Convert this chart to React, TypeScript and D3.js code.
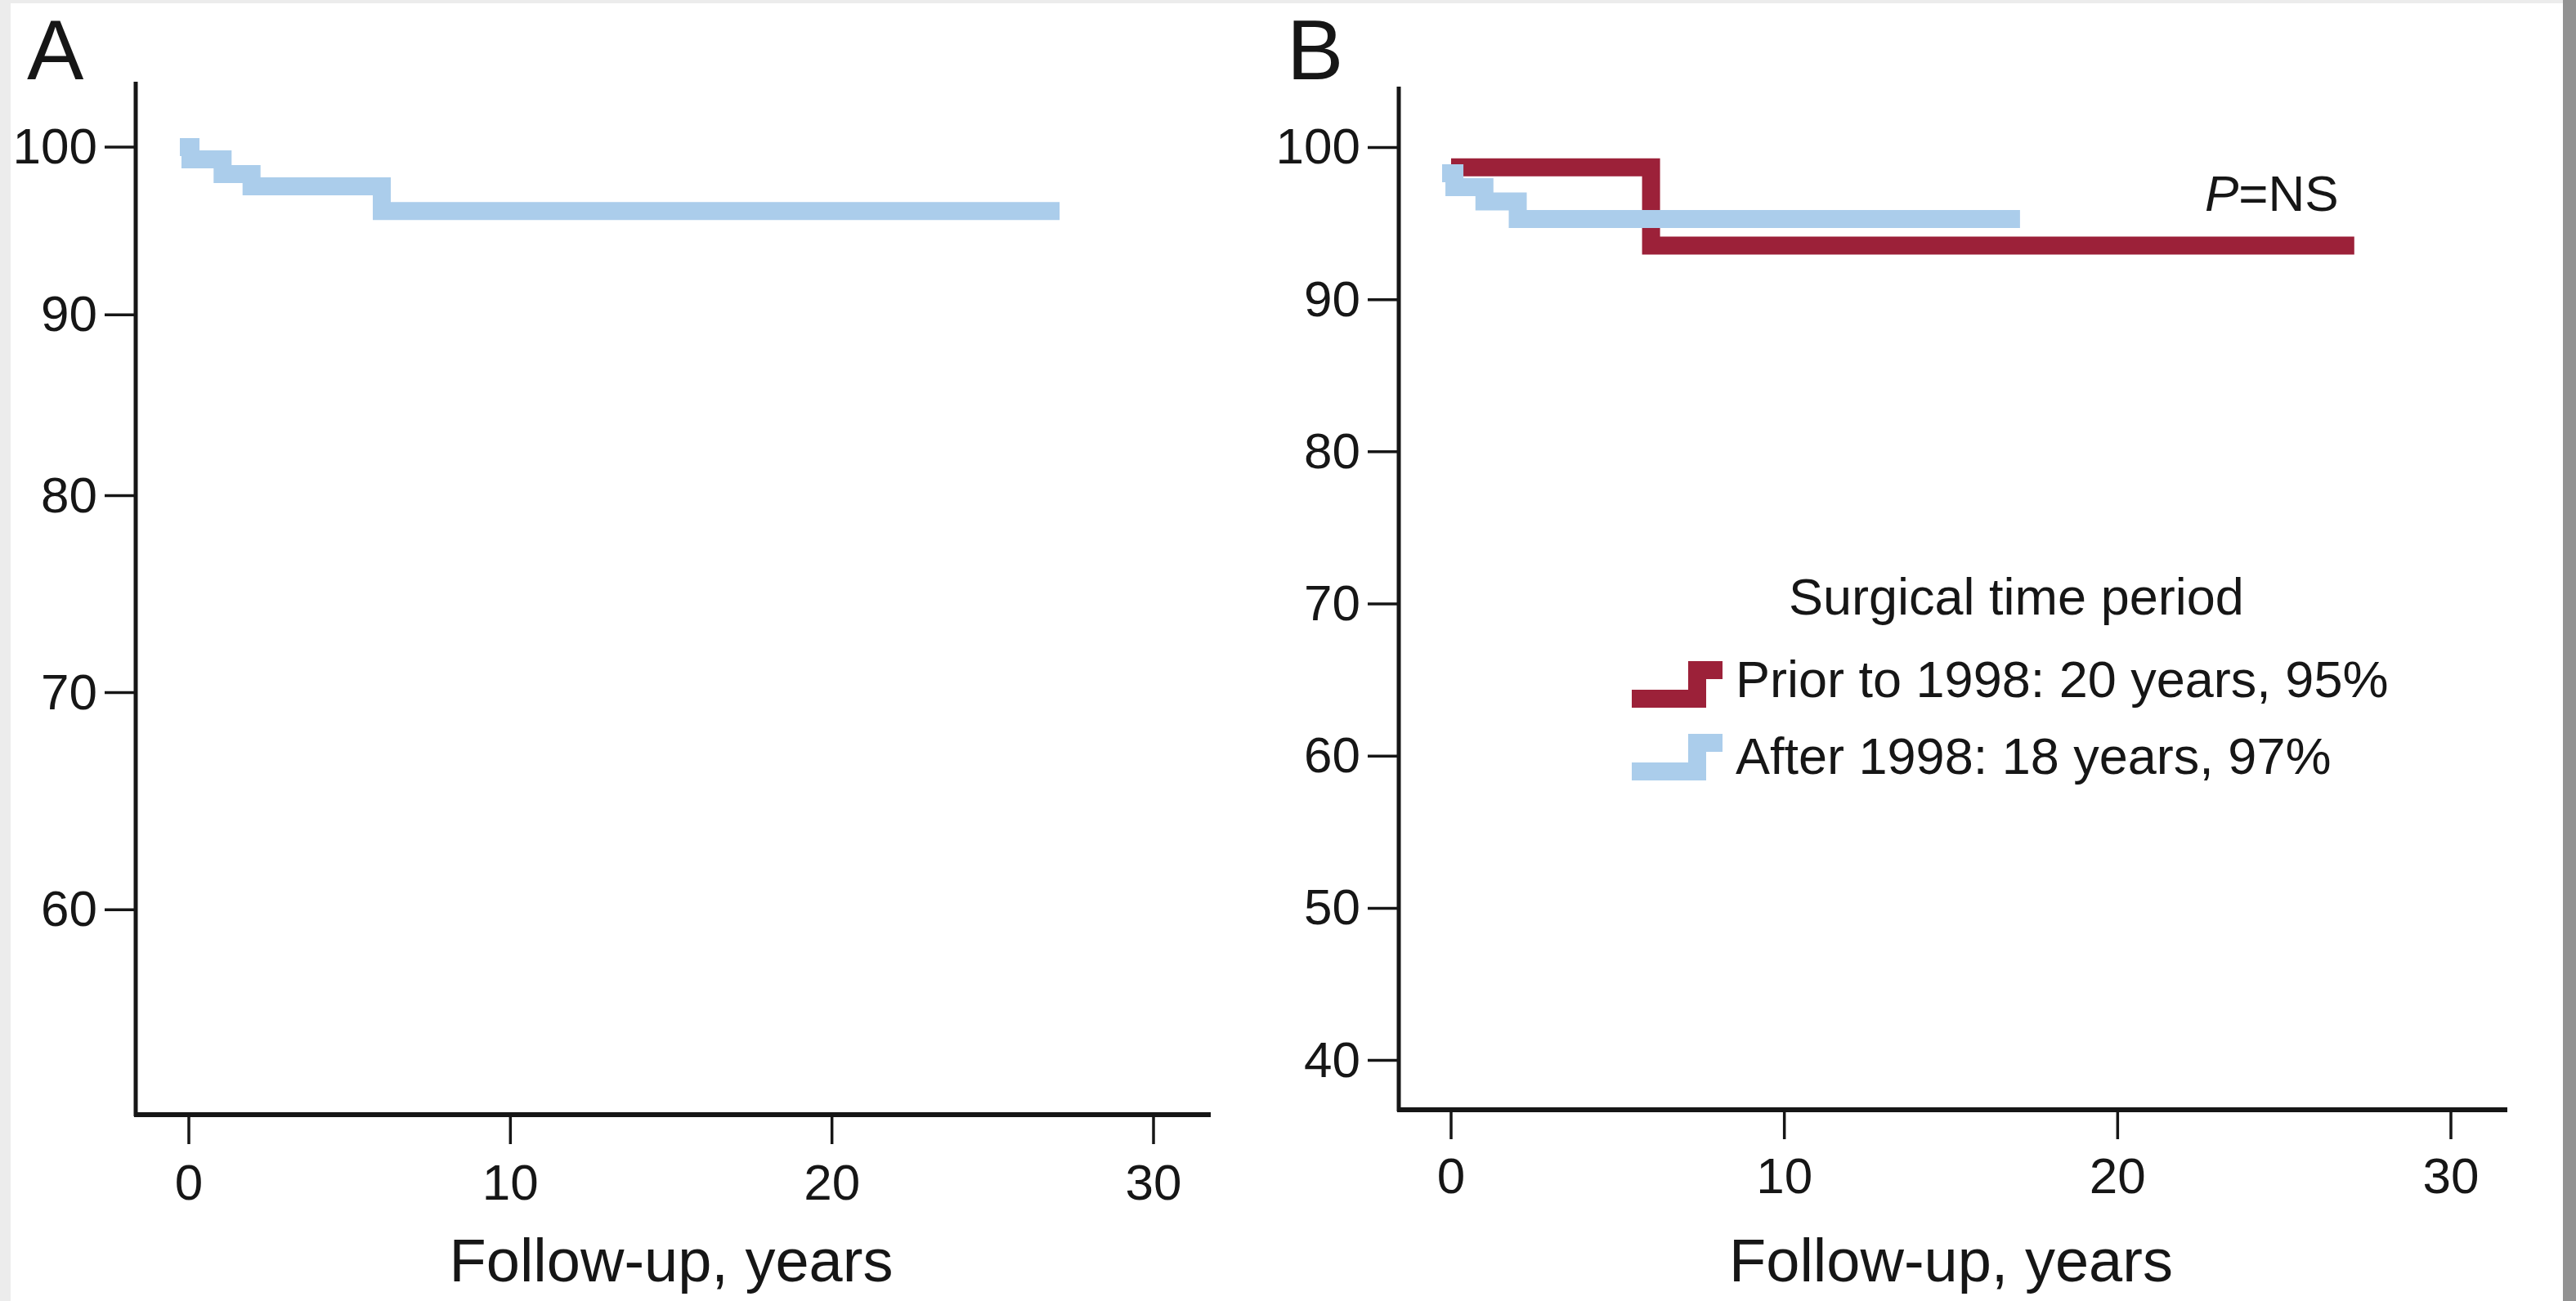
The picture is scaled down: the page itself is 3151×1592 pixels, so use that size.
import React from 'react';
import * as d3 from 'd3';

// tick labels
const xTicks = [0, 10, 20, 30];
const yTicksA = [100, 90, 80, 70, 60];
const yTicksB = [100, 90, 80, 70, 60, 50, 40];

// panel A: all patients (time in years, survival %)
const timesA = [0, 0.05, 1.05, 1.95, 6.0, 26.8];
const survA = [100, 99.25, 98.35, 97.6, 96.1, 96.1];

// panel B: prior to 1998
const timesPrior = [0, 6.0, 27.1];
const survPrior = [98.7, 93.55, 93.55];

// panel B: after 1998
const timesAfter = [0, 0.1, 1.0, 2.0, 16.8];
const survAfter = [98.3, 97.4, 96.45, 95.3, 95.3];

const legendLabels = ['Prior to 1998: 20 years, 95%', 'After 1998: 18 years, 97%'];

const RED = '#9c2139';
const BLUE = '#abcdeb';
const INK = '#161616';
const FONT = 'Liberation Sans, Arial, Helvetica, sans-serif';

const zip = (t, s) => t.map((d, i) => [d, s[i]]);

function Panel({ letter, xScale, yScale, yTicks, axisLeft, axisRight, axisTop, axisBottom, tickLabelBase, series, letterX }) {
  const line = d3.line()
    .x(d => xScale(d[0]))
    .y(d => yScale(d[1]))
    .curve(d3.curveStepAfter);
  const titleX = (xScale(0) + xScale(30)) / 2;
  return (
    <g>
      <text x={letterX} y={97} fontSize={104} fontFamily={FONT} fill={INK}>{letter}</text>
      {series.map((s, i) => (
        <path key={i} d={line(s.points)} fill="none" stroke={s.color} strokeWidth={22}
          strokeLinejoin="miter" strokeLinecap={s.cap} />
      ))}
      {/* y axis */}
      <line x1={axisLeft} x2={axisLeft} y1={axisTop} y2={axisBottom + 2} stroke={INK} strokeWidth={5} />
      {yTicks.map(t => (
        <g key={t}>
          <line x1={axisLeft - 38} x2={axisLeft} y1={yScale(t)} y2={yScale(t)} stroke={INK} strokeWidth={3.5} />
          <text x={axisLeft - 47} y={yScale(t) + 20} textAnchor="end" fontSize={62} fontFamily={FONT} fill={INK}>{t}</text>
        </g>
      ))}
      {/* x axis */}
      <line x1={axisLeft - 2} x2={axisRight} y1={axisBottom} y2={axisBottom} stroke={INK} strokeWidth={6} />
      {xTicks.map(t => (
        <g key={t}>
          <line x1={xScale(t)} x2={xScale(t)} y1={axisBottom} y2={axisBottom + 36} stroke={INK} strokeWidth={3.5} />
          <text x={xScale(t)} y={tickLabelBase} textAnchor="middle" fontSize={62} fontFamily={FONT} fill={INK}>{t}</text>
        </g>
      ))}
      <text x={titleX} y={1568} textAnchor="middle" fontSize={74} fontFamily={FONT} fill={INK}>Follow-up, years</text>
    </g>
  );
}

export default function App() {
  const xA = d3.scaleLinear().domain([0, 30]).range([231, 1411]);
  const yA = d3.scalePow().exponent(0.32).domain([51.5, 104.1]).range([1364, 100]);
  const xB = d3.scaleLinear().domain([0, 30]).range([1775, 2998]);
  const yB = d3.scaleLinear().domain([36.7, 104.0]).range([1359, 106]);

  const stepIcon = (x, y) => `M${x},${y}H${x + 80}V${y - 35}H${x + 111}`;

  return (
    <svg width={3151} height={1592} style={{ position: 'absolute', left: 0, top: 0 }}>
      <rect x={0} y={0} width={3151} height={1592} fill="#ececec" />
      <rect x={13} y={4} width={3122} height={1588} fill="#ffffff" />
      <rect x={3135} y={0} width={16} height={1592} fill="#929292" />

      <Panel letter="A" letterX={33} xScale={xA} yScale={yA} yTicks={yTicksA}
        axisLeft={166} axisRight={1481} axisTop={100} axisBottom={1364} tickLabelBase={1468}
        series={[{ color: BLUE, cap: 'square', points: zip(timesA, survA) }]} />

      <Panel letter="B" letterX={1574} xScale={xB} yScale={yB} yTicks={yTicksB}
        axisLeft={1711} axisRight={3067} axisTop={106} axisBottom={1358} tickLabelBase={1460}
        series={[
          { color: RED, cap: 'butt', points: zip(timesPrior, survPrior) },
          { color: BLUE, cap: 'square', points: zip(timesAfter, survAfter) },
        ]} />

      <text x={2697} y={258} fontSize={62} fontFamily={FONT} fill={INK}>
        <tspan fontStyle="italic">P</tspan>=NS
      </text>

      {/* legend */}
      <text x={2188} y={752} fontSize={63} fontFamily={FONT} fill={INK}>Surgical time period</text>
      <path d={stepIcon(1996, 855)} fill="none" stroke={RED} strokeWidth={22} strokeLinejoin="miter" />
      <text x={2123} y={853} fontSize={63} fontFamily={FONT} fill={INK}>{legendLabels[0]}</text>
      <path d={stepIcon(1996, 944)} fill="none" stroke={BLUE} strokeWidth={22} strokeLinejoin="miter" />
      <text x={2123} y={947} fontSize={63} fontFamily={FONT} fill={INK}>{legendLabels[1]}</text>
    </svg>
  );
}
